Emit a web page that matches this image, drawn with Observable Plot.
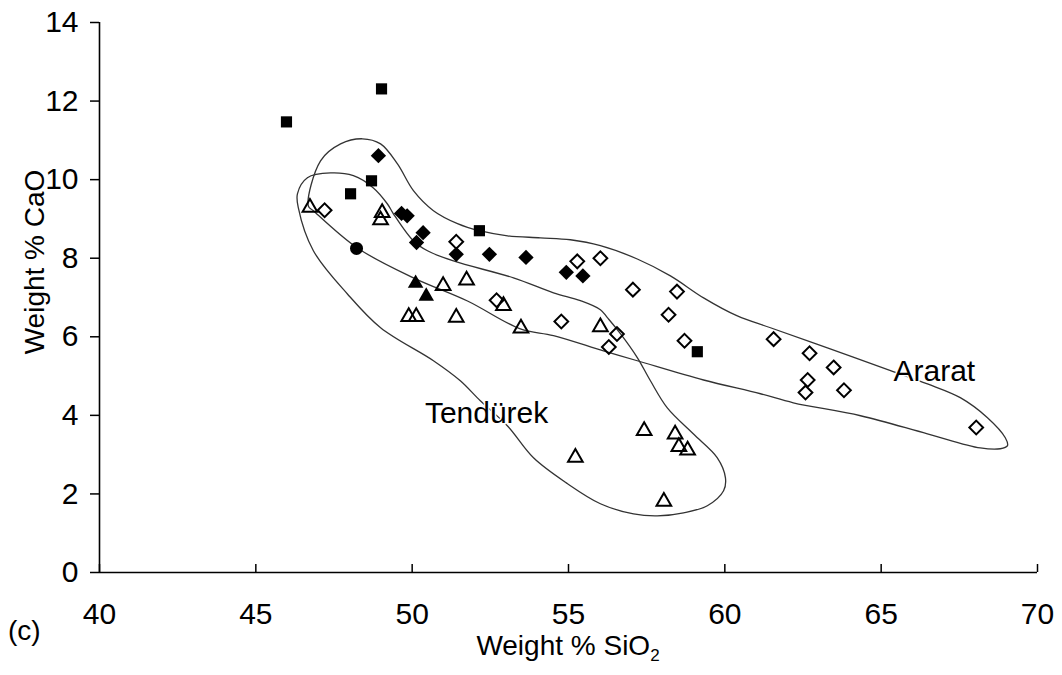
<!DOCTYPE html>
<html><head><meta charset="utf-8">
<script src="https://cdn.jsdelivr.net/npm/d3@7"></script>
<script src="https://cdn.jsdelivr.net/npm/@observablehq/plot@0.6"></script>
<style>body{margin:0;background:#fff} svg{display:block}</style>
</head><body><div id="chart"></div>
<script>
// Filled squares
const sqX = [45.98, 49.02, 48.03, 48.70, 52.15, 59.12];
const sqY = [11.47, 12.31, 9.64, 9.97, 8.70, 5.62];
// Filled diamonds
const fdX = [48.92, 49.66, 49.84, 50.35, 50.14, 51.41, 52.47, 53.64, 54.93, 55.46];
const fdY = [10.61, 9.14, 9.08, 8.65, 8.40, 8.10, 8.10, 8.02, 7.64, 7.55];
// Filled circle
const fcX = [48.22];
const fcY = [8.25];
// Filled triangles
const ftX = [50.11, 50.45];
const ftY = [7.36, 7.03];
// Open triangles
const otX = [46.73, 49.04, 48.99, 50.99, 51.74, 49.89, 50.13, 51.41, 52.92, 53.48, 56.02, 57.42, 58.41, 58.53, 58.81, 55.22, 58.05];
const otY = [9.29, 9.16, 8.97, 7.30, 7.44, 6.51, 6.51, 6.49, 6.79, 6.22, 6.25, 3.61, 3.52, 3.20, 3.11, 2.93, 1.81];
// Open diamonds
const odX = [47.20, 51.41, 52.70, 54.77, 55.28, 56.02, 57.06, 58.47, 58.20, 56.55, 56.29, 58.71, 61.56, 62.71, 63.48, 62.65, 62.58, 63.81, 68.04];
const odY = [9.22, 8.42, 6.93, 6.39, 7.92, 8.00, 7.20, 7.15, 6.56, 6.07, 5.74, 5.90, 5.94, 5.58, 5.22, 4.90, 4.58, 4.64, 3.69];

// Field outlines (hand-drawn envelopes)
const araratX = [46.68, 47.07, 47.71, 48.41, 48.99, 49.53, 50.04, 50.68, 51.45, 52.15, 53.05, 54.10, 55.06, 56.02, 57.20, 58.26, 59.32, 60.40, 61.46, 63.28, 65.30, 66.48, 67.53, 68.40, 68.97, 69.04, 68.81, 68.17, 66.48, 64.34, 62.19, 61.14, 59.32, 57.20, 56.12, 54.52, 53.46, 51.77, 50.04, 48.25, 46.84];
const araratY = [9.33, 10.48, 10.91, 11.04, 10.91, 10.40, 9.72, 9.21, 8.88, 8.70, 8.57, 8.52, 8.47, 8.32, 7.98, 7.55, 6.99, 6.53, 6.23, 5.72, 5.14, 4.80, 4.45, 3.94, 3.43, 3.23, 3.15, 3.17, 3.53, 3.99, 4.32, 4.55, 4.90, 5.39, 5.64, 6.03, 6.20, 6.91, 7.50, 8.26, 9.21];
const tendX = [46.33, 46.65, 47.39, 48.12, 48.76, 49.21, 49.40, 50.04, 50.49, 51.32, 53.24, 54.52, 55.38, 56.02, 56.25, 56.66, 57.20, 57.62, 58.16, 58.99, 59.76, 60.02, 59.96, 59.44, 58.68, 57.84, 57.08, 56.02, 54.97, 53.88, 53.05, 52.18, 51.54, 50.68, 48.99, 47.93, 46.84, 46.36];
const tendY = [9.64, 10.05, 10.17, 10.10, 9.79, 9.38, 9.13, 8.44, 8.19, 7.93, 7.50, 7.12, 6.92, 6.69, 6.48, 6.08, 5.47, 4.88, 4.19, 3.53, 2.92, 2.41, 2.08, 1.70, 1.52, 1.44, 1.49, 1.75, 2.26, 2.92, 3.73, 4.37, 4.88, 5.39, 6.23, 7.09, 8.19, 9.28];

const fieldNames = ["Tendürek", "Ararat"];
const fieldLabelX = [52.38, 66.70];
const fieldLabelY = [4.06, 5.11];

const xTicks = [40, 45, 50, 55, 60, 65, 70];
const yTicks = [0, 2, 4, 6, 8, 10, 12, 14];

const pts = (xs, ys) => xs.map((x, i) => ({x, y: ys[i]}));
const ararat = pts(araratX, araratY);
const tend = pts(tendX, tendY);
const labels = fieldNames.map((t, i) => ({t, x: fieldLabelX[i], y: fieldLabelY[i]}));

const FONT = "'Liberation Sans', Arial, Helvetica, sans-serif";

const plot = Plot.plot({
  width: 1062, height: 675,
  marginLeft: 99, marginRight: 25, marginTop: 22, marginBottom: 103,
  style: {fontFamily: FONT, fontSize: "30px", background: "#fff", color: "#000", overflow: "visible"},
  x: {domain: [40, 70]},
  y: {domain: [0, 14]},
  marks: [
    Plot.axisY(yTicks, {tickSize: 9, tickPadding: 12, label: null, fontSize: 30, strokeWidth: 1.5}),
    Plot.axisX(xTicks, {tickSize: -8, tickPadding: 38, label: null, fontSize: 30, strokeWidth: 1.5}),
    Plot.ruleX([40], {strokeWidth: 1.6}),
    Plot.ruleY([0], {strokeWidth: 1.6}),
    Plot.line(ararat, {x: "x", y: "y", curve: "catmull-rom-closed", stroke: "#333", strokeWidth: 1.3}),
    Plot.line(tend, {x: "x", y: "y", curve: "catmull-rom-closed", stroke: "#333", strokeWidth: 1.3}),
    Plot.dot(pts(sqX, sqY), {x: "x", y: "y", symbol: "square", r: 6.3, fill: "#000", stroke: "none"}),
    Plot.dot(pts(fdX, fdY), {x: "x", y: "y", symbol: "diamond2", r: 6.9, fill: "#000", stroke: "none"}),
    Plot.dot(pts(fcX, fcY), {x: "x", y: "y", symbol: "circle", r: 6.5, fill: "#000", stroke: "none"}),
    Plot.dot(pts(ftX, ftY), {x: "x", y: "y", symbol: "triangle2", r: 7.4, fill: "#000", stroke: "none"}),
    Plot.dot(pts(otX, otY), {x: "x", y: "y", symbol: "triangle2", r: 7, fill: "none", stroke: "#000", strokeWidth: 2}),
    Plot.dot(pts(odX, odY), {x: "x", y: "y", symbol: "diamond2", r: 6.2, fill: "none", stroke: "#000", strokeWidth: 2}),
    Plot.text(labels, {x: "x", y: "y", text: "t", fontSize: 30, fill: "#000", stroke: "#fff", strokeWidth: 3})
  ]
});

const svg = d3.select(plot);
// x axis title with subscript
const xt = svg.append("text").attr("x", 568).attr("y", 655).attr("text-anchor", "middle")
  .attr("font-size", 28).attr("font-family", FONT).attr("fill", "#000");
xt.append("tspan").text("Weight % SiO");
xt.append("tspan").attr("font-size", 17).attr("dy", 6).text("2");
// y axis title
svg.append("text").attr("transform", "translate(44,262) rotate(-90)").attr("text-anchor", "middle")
  .attr("font-size", 28).attr("font-family", FONT).attr("fill", "#000").text("Weight % CaO");
// panel label
svg.append("text").attr("x", 8).attr("y", 640).attr("text-anchor", "start").attr("font-size", 28)
  .attr("font-family", FONT).attr("fill", "#000").text("(c)");

document.getElementById("chart").appendChild(plot);
</script>
</body></html>
